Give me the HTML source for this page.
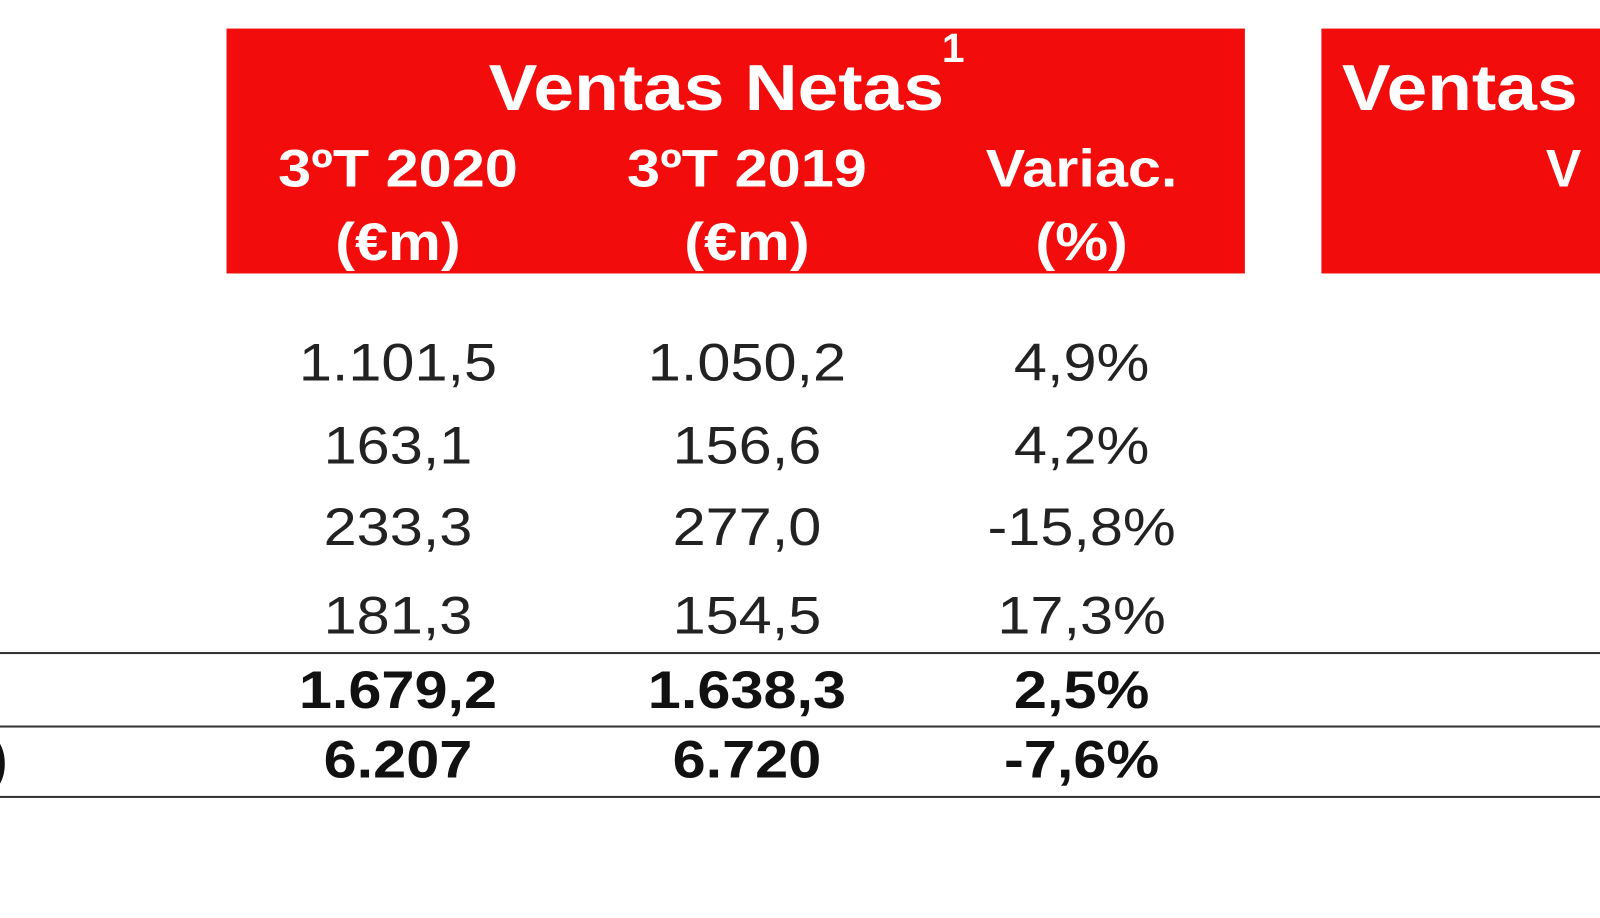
<!DOCTYPE html>
<html><head><meta charset="utf-8"><style>
body{margin:0;width:1600px;height:900px;background:#fff;position:relative;overflow:hidden;font-family:"Liberation Sans",Arial,sans-serif;}
#wrap{position:absolute;left:0;top:0;width:1600px;height:900px;transform:scale(1.0204);transform-origin:0 0;}
.box{position:absolute;background:#f20c0c;top:28px;height:240px;}
.t{position:absolute;white-space:nowrap;line-height:1;}
.w{color:#fff;font-weight:bold;}
.c{transform:translateX(-50%) scaleX(1.12);}
.n{color:#222;font-size:52px;}
.b{font-weight:bold;color:#111;}
.line{position:absolute;left:0;width:1600px;height:2px;background:#333;}
</style></head><body><div id="wrap">
<div class="box" style="left:222px;width:998px"></div>
<div class="box" style="left:1295px;width:305px"></div>
<div class="t w c" style="left:702px;top:54px;font-size:64px">Ventas Netas</div>
<div class="t w" style="left:923px;top:28px;font-size:40px">1</div>
<div class="t w" style="left:1315px;top:54px;font-size:64px;transform:scaleX(1.12);transform-origin:0 0">Ventas</div>
<div class="t w" style="left:1515px;top:140px;font-size:52px">V</div>
<div class="t w c" style="left:390px;top:140px;font-size:52px">3ºT 2020</div>
<div class="t w c" style="left:732px;top:140px;font-size:52px">3ºT 2019</div>
<div class="t w c" style="left:1060px;top:140px;font-size:52px">Variac.</div>
<div class="t w c" style="left:390px;top:212px;font-size:52px">(€m)</div>
<div class="t w c" style="left:732px;top:212px;font-size:52px">(€m)</div>
<div class="t w c" style="left:1060px;top:212px;font-size:52px">(%)</div>

<div class="t n c" style="left:390px;top:330px">1.101,5</div>
<div class="t n c" style="left:732px;top:330px">1.050,2</div>
<div class="t n c" style="left:1060px;top:330px">4,9%</div>
<div class="t n c" style="left:390px;top:411px">163,1</div>
<div class="t n c" style="left:732px;top:411px">156,6</div>
<div class="t n c" style="left:1060px;top:411px">4,2%</div>
<div class="t n c" style="left:390px;top:491px">233,3</div>
<div class="t n c" style="left:732px;top:491px">277,0</div>
<div class="t n c" style="left:1060px;top:491px">-15,8%</div>
<div class="t n c" style="left:390px;top:578px">181,3</div>
<div class="t n c" style="left:732px;top:578px">154,5</div>
<div class="t n c" style="left:1060px;top:578px">17,3%</div>
<div class="line" style="top:639px"></div>
<div class="t n b c" style="left:390px;top:651px">1.679,2</div>
<div class="t n b c" style="left:732px;top:651px">1.638,3</div>
<div class="t n b c" style="left:1060px;top:651px">2,5%</div>
<div class="line" style="top:711px"></div>
<div class="t n b" style="left:-10px;top:719px">)</div>
<div class="t n b c" style="left:390px;top:719px">6.207</div>
<div class="t n b c" style="left:732px;top:719px">6.720</div>
<div class="t n b c" style="left:1060px;top:719px">-7,6%</div>
<div class="line" style="top:780px"></div>
</div></body></html>
